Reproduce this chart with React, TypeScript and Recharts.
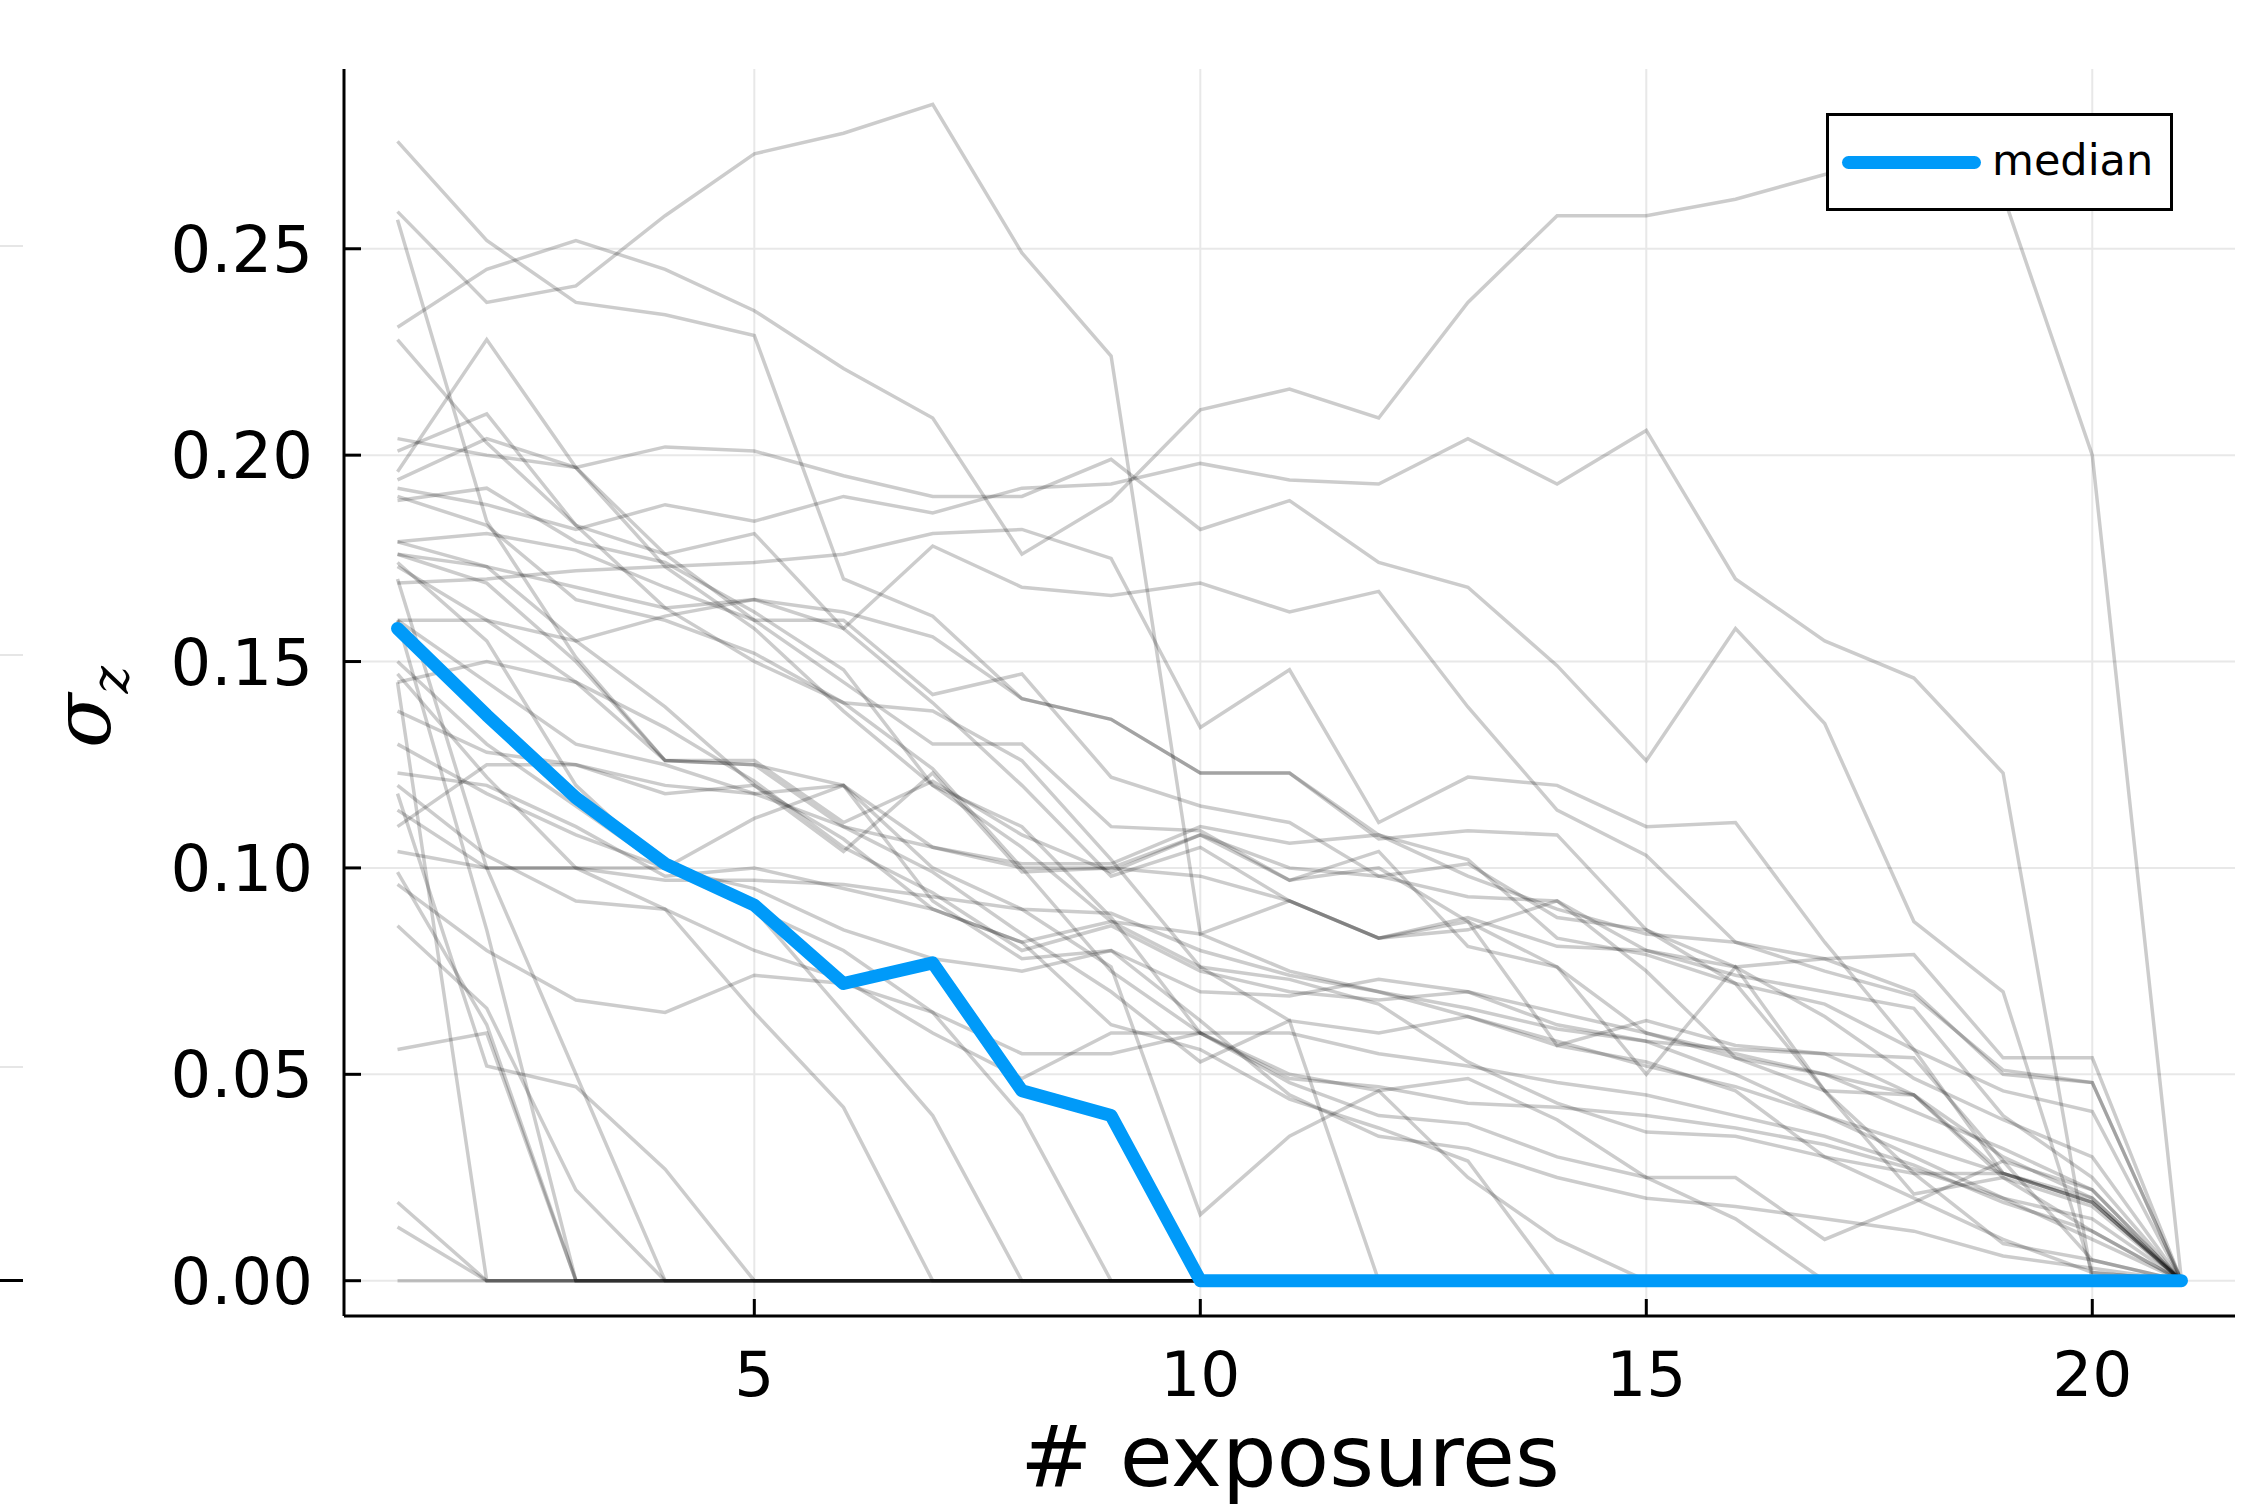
import React from 'react'
import { LineChart, Line, XAxis, YAxis, CartesianGrid } from 'recharts'

const exposures = [1, 2, 3, 4, 5, 6, 7, 8, 9, 10, 11, 12, 13, 14, 15, 16, 17, 18, 19, 20, 21]

const median = [0.158, 0.137, 0.117, 0.101, 0.091, 0.072, 0.077, 0.046, 0.040, 0, 0, 0, 0, 0, 0, 0, 0, 0, 0, 0, 0]

// individual runs (grey)
const run01 = [0.259, 0.237, 0.241, 0.258, 0.273, 0.278, 0.285, 0.249, 0.224, 0.084, 0.092, 0.083, 0.088, 0.081, 0.080, 0.076, 0.078, 0.079, 0.054, 0.054, 0]
const run02 = [0.231, 0.245, 0.252, 0.245, 0.235, 0.221, 0.209, 0.176, 0.189, 0.211, 0.216, 0.209, 0.237, 0.258, 0.258, 0.262, 0.268, 0.272, 0.263, 0.200, 0]
const run03 = [0.276, 0.252, 0.237, 0.234, 0.229, 0.170, 0.161, 0.141, 0.136, 0.123, 0.123, 0.108, 0.102, 0.083, 0.079, 0.072, 0.046, 0.021, 0.025, 0.018, 0]
const run04 = [0.192, 0.188, 0.182, 0.188, 0.184, 0.190, 0.186, 0.192, 0.193, 0.198, 0.194, 0.193, 0.204, 0.193, 0.206, 0.170, 0.155, 0.146, 0.123, 0, 0]
const run05 = [0.204, 0.200, 0.197, 0.202, 0.201, 0.195, 0.190, 0.190, 0.199, 0.182, 0.189, 0.174, 0.168, 0.149, 0.126, 0.158, 0.135, 0.087, 0.070, 0.002, 0]
const run06 = [0.169, 0.170, 0.172, 0.173, 0.174, 0.176, 0.181, 0.182, 0.175, 0.134, 0.148, 0.111, 0.122, 0.120, 0.110, 0.111, 0.082, 0.056, 0.026, 0.019, 0]
const run07 = [0.160, 0.160, 0.155, 0.161, 0.165, 0.158, 0.178, 0.168, 0.166, 0.169, 0.162, 0.167, 0.139, 0.114, 0.103, 0.082, 0.075, 0.069, 0.051, 0.048, 0]
const run08 = [0.176, 0.173, 0.168, 0.163, 0.165, 0.162, 0.156, 0.141, 0.136, 0.123, 0.123, 0.107, 0.109, 0.108, 0.085, 0.072, 0.067, 0.056, 0.046, 0.041, 0]
const run09 = [0.179, 0.181, 0.177, 0.168, 0.160, 0.160, 0.142, 0.147, 0.122, 0.115, 0.111, 0.098, 0.093, 0.092, 0.075, 0.054, 0.050, 0.041, 0.032, 0.022, 0]
const run10 = [0.257, 0.184, 0.151, 0.126, 0.126, 0.111, 0.121, 0.108, 0.099, 0.108, 0.097, 0.100, 0.087, 0.057, 0.063, 0.057, 0.055, 0.054, 0.029, 0.005, 0]
const run11 = [0.228, 0.203, 0.183, 0.163, 0.150, 0.140, 0.124, 0.100, 0.075, 0.060, 0.048, 0.040, 0.038, 0.030, 0.025, 0.015, 0, 0, 0, 0, 0]
const run12 = [0.196, 0.228, 0.197, 0.173, 0.158, 0.138, 0.120, 0.105, 0.087, 0.076, 0.063, 0.060, 0.064, 0.057, 0.053, 0.046, 0.030, 0.020, 0.010, 0.002, 0]
const run13 = [0.201, 0.210, 0.183, 0.176, 0.181, 0.158, 0.140, 0.120, 0.098, 0.105, 0.092, 0.083, 0.087, 0.076, 0.060, 0.054, 0.046, 0.026, 0.009, 0.005, 0]
const run14 = [0.194, 0.204, 0.197, 0.176, 0.160, 0.145, 0.130, 0.130, 0.110, 0.109, 0.097, 0.104, 0.081, 0.076, 0.050, 0.076, 0.046, 0.045, 0.026, 0.019, 0]
const run15 = [0.190, 0.183, 0.165, 0.160, 0.152, 0.140, 0.138, 0.126, 0.102, 0.076, 0.073, 0.067, 0.053, 0.043, 0.036, 0.035, 0.030, 0.026, 0.026, 0.019, 0]
const run16 = [0.189, 0.192, 0.179, 0.174, 0.162, 0.148, 0.120, 0.110, 0.088, 0.060, 0.050, 0.046, 0.049, 0.039, 0.025, 0.025, 0.010, 0.019, 0.029, 0.022, 0]
const run17 = [0.179, 0.173, 0.155, 0.139, 0.120, 0.107, 0.090, 0.082, 0.062, 0.056, 0.044, 0.037, 0.029, 0, 0, 0, 0, 0, 0, 0, 0]
const run18 = [0.176, 0.169, 0.150, 0.126, 0.125, 0.110, 0.099, 0.084, 0.070, 0.053, 0.063, 0, 0, 0, 0, 0, 0, 0, 0, 0, 0]
const run19 = [0.174, 0.155, 0.120, 0.100, 0.090, 0.065, 0.040, 0, 0, 0, 0, 0, 0, 0, 0, 0, 0, 0, 0, 0, 0]
const run20 = [0.173, 0.160, 0.145, 0.134, 0.121, 0.105, 0.094, 0.080, 0.086, 0.075, 0.070, 0.068, 0.070, 0.065, 0.060, 0.055, 0.050, 0.045, 0.030, 0.020, 0]
const run21 = [0.160, 0.145, 0.130, 0.125, 0.118, 0.110, 0.105, 0.100, 0.100, 0.098, 0.092, 0.083, 0.085, 0.092, 0.080, 0.074, 0.070, 0.066, 0.040, 0.025, 0]
const run22 = [0.147, 0.122, 0.100, 0.090, 0.065, 0.042, 0, 0, 0, 0, 0, 0, 0, 0, 0, 0, 0, 0, 0, 0, 0]
const run23 = [0.145, 0.150, 0.145, 0.126, 0.125, 0.120, 0.100, 0.090, 0.076, 0.016, 0.035, 0.046, 0.025, 0.010, 0, 0, 0, 0, 0, 0, 0]
const run24 = [0.138, 0.128, 0.125, 0.120, 0.118, 0.120, 0.092, 0.078, 0.080, 0.063, 0.045, 0.035, 0.032, 0.025, 0.020, 0.018, 0.015, 0.012, 0.006, 0.003, 0]
const run25 = [0.130, 0.118, 0.108, 0.100, 0.095, 0.085, 0.078, 0.075, 0.080, 0.070, 0.069, 0.073, 0.070, 0.062, 0.058, 0.056, 0.055, 0.045, 0.025, 0.012, 0]
const run26 = [0.123, 0.120, 0.110, 0.098, 0.100, 0.095, 0.090, 0.082, 0.087, 0.084, 0.075, 0.070, 0.066, 0.061, 0.058, 0.050, 0.040, 0.030, 0.020, 0.010, 0]
const run27 = [0.120, 0.103, 0.092, 0.090, 0.080, 0.073, 0.060, 0.049, 0.060, 0.060, 0.060, 0.055, 0.052, 0.048, 0.045, 0.040, 0.035, 0.028, 0.019, 0.012, 0]
const run28 = [0.118, 0.052, 0.047, 0.027, 0, 0, 0, 0, 0, 0, 0, 0, 0, 0, 0, 0, 0, 0, 0, 0, 0]
const run29 = [0.114, 0.100, 0.100, 0.100, 0.112, 0.120, 0.105, 0.101, 0.101, 0.110, 0.106, 0.108, 0.098, 0.090, 0.084, 0.082, 0.078, 0.070, 0.050, 0.048, 0]
const run30 = [0.110, 0.125, 0.125, 0.118, 0.120, 0.104, 0.123, 0.099, 0.100, 0.108, 0.100, 0.098, 0.101, 0.088, 0.085, 0.076, 0.064, 0.049, 0.039, 0.030, 0]
const run31 = [0.104, 0.100, 0.100, 0.097, 0.097, 0.096, 0.093, 0.090, 0.089, 0.080, 0.074, 0.070, 0.064, 0.058, 0.052, 0.047, 0.040, 0.033, 0.026, 0.020, 0]
const run32 = [0.099, 0.062, 0, 0, 0, 0, 0, 0, 0, 0, 0, 0, 0, 0, 0, 0, 0, 0, 0, 0, 0]
const run33 = [0.096, 0.080, 0.068, 0.065, 0.074, 0.072, 0.065, 0.055, 0.055, 0.060, 0.049, 0.047, 0.043, 0.042, 0.040, 0.037, 0.033, 0.027, 0.020, 0.015, 0]
const run34 = [0.086, 0.066, 0.022, 0, 0, 0, 0, 0, 0, 0, 0, 0, 0, 0, 0, 0, 0, 0, 0, 0, 0]
const run35 = [0.056, 0.060, 0, 0, 0, 0, 0, 0, 0, 0, 0, 0, 0, 0, 0, 0, 0, 0, 0, 0, 0]
const run36 = [0.019, 0, 0, 0, 0, 0, 0, 0, 0, 0, 0, 0, 0, 0, 0, 0, 0, 0, 0, 0, 0]
const run37 = [0.013, 0, 0, 0, 0, 0, 0, 0, 0, 0, 0, 0, 0, 0, 0, 0, 0, 0, 0, 0, 0]
const run38 = [0, 0, 0, 0, 0, 0, 0, 0, 0, 0, 0, 0, 0, 0, 0, 0, 0, 0, 0, 0, 0]
const run39 = [0.150, 0.130, 0.115, 0.100, 0.090, 0.080, 0.065, 0.040, 0, 0, 0, 0, 0, 0, 0, 0, 0, 0, 0, 0, 0]
const run40 = [0.145, 0, 0, 0, 0, 0, 0, 0, 0, 0, 0, 0, 0, 0, 0, 0, 0, 0, 0, 0, 0]
const run41 = [0.160, 0.085, 0, 0, 0, 0, 0, 0, 0, 0, 0, 0, 0, 0, 0, 0, 0, 0, 0, 0, 0]
const run42 = [0.170, 0.100, 0.050, 0, 0, 0, 0, 0, 0, 0, 0, 0, 0, 0, 0, 0, 0, 0, 0, 0, 0]

const runs = [
  run01, run02, run03, run04, run05, run06, run07, run08, run09, run10,
  run11, run12, run13, run14, run15, run16, run17, run18, run19, run20,
  run21, run22, run23, run24, run25, run26, run27, run28, run29, run30,
  run31, run32, run33, run34, run35, run36, run37, run38, run39, run40,
  run41, run42,
]

const xTicks = [5, 10, 15, 20]
const yTicks = [0, 0.05, 0.1, 0.15, 0.2, 0.25]

const rows = exposures.map((x, i) => {
  const row: Record<string, number> = { x, median: median[i] }
  runs.forEach((r, k) => {
    row[`run${k}`] = r[i]
  })
  return row
})

const FONT = '"DejaVu Sans", sans-serif'

function XTick({ x, y, payload }: any) {
  return (
    <g>
      <line x1={x} x2={x} y1={y} y2={y - 17} stroke="#000" strokeWidth={3} />
      <text x={x} y={y + 80} textAnchor="middle" fontSize={63} fontFamily={FONT} fill="#000">
        {payload.value}
      </text>
    </g>
  )
}

function YTick({ x, y, payload }: any) {
  return (
    <g>
      <line x1={x} x2={x + 17} y1={y} y2={y} stroke="#000" strokeWidth={3} />
      <text x={x - 31} y={y + 23} textAnchor="end" fontSize={64} fontFamily={FONT} fill="#000">
        {Number(payload.value).toFixed(2)}
      </text>
    </g>
  )
}

const xTitle = () => (
  <text x={1290} y={1486} textAnchor="middle" fontSize={86} fontFamily={FONT} fill="#000">
    # exposures
  </text>
)

const yTitle = () => (
  <text
    x={110}
    y={748}
    transform="rotate(-90 110 748)"
    fontSize={80}
    fontFamily='"DejaVu Serif", serif'
    fontStyle="italic"
    fill="#000"
  >
    σ<tspan fontSize={52} dy={18}>z</tspan>
  </text>
)

export default function App() {
  return (
    <div style={{ position: 'absolute', left: 0, top: 0, width: 2268, height: 1512, background: '#fff' }}>
      <LineChart width={2268} height={1512} data={rows} margin={{ top: 69, right: 33, left: 0, bottom: 0 }}>
        <CartesianGrid
          stroke="#e8e8e8"
          strokeWidth={2}
          horizontalValues={yTicks}
          verticalValues={xTicks}
        />
        <XAxis
          dataKey="x"
          type="number"
          domain={[0.4, 21.6]}
          ticks={xTicks}
          interval={0}
          height={196}
          tickSize={0}
          tickMargin={0}
          tick={<XTick />}
          axisLine={{ stroke: '#000', strokeWidth: 3 }}
          label={{ content: xTitle }}
          allowDataOverflow
        />
        <YAxis
          type="number"
          domain={[-0.00855, 0.29355]}
          ticks={yTicks}
          interval={0}
          width={344}
          tickSize={0}
          tickMargin={0}
          tick={<YTick />}
          axisLine={{ stroke: '#000', strokeWidth: 3 }}
          label={{ content: yTitle }}
          allowDataOverflow
        />
        {runs.map((_, k) => (
          <Line
            key={k}
            type="linear"
            dataKey={`run${k}`}
            stroke="#000"
            strokeOpacity={0.2}
            strokeWidth={3.5}
            dot={false}
            activeDot={false}
            isAnimationActive={false}
          />
        ))}
        <Line
          type="linear"
          dataKey="median"
          stroke="#009af9"
          strokeWidth={13}
          strokeLinecap="round"
          strokeLinejoin="round"
          dot={false}
          activeDot={false}
          isAnimationActive={false}
        />
      </LineChart>

      {/* legend */}
      <div
        style={{
          position: 'absolute',
          left: 1826,
          top: 113,
          width: 347,
          height: 98,
          boxSizing: 'border-box',
          border: '3px solid #000',
          background: '#fff',
        }}
      >
        <div
          style={{
            position: 'absolute',
            left: 13,
            top: 40,
            width: 139,
            height: 13,
            borderRadius: 7,
            background: '#009af9',
          }}
        />
        <div
          style={{
            position: 'absolute',
            left: 163,
            top: 14,
            fontFamily: FONT,
            fontSize: 43,
            lineHeight: '60px',
            color: '#000',
          }}
        >
          median
        </div>
      </div>

      {/* stray tick stubs at the far left edge */}
      <div style={{ position: 'absolute', left: 0, top: 245, width: 23, height: 2, background: '#e6e6e6' }} />
      <div style={{ position: 'absolute', left: 0, top: 654, width: 23, height: 2, background: '#e6e6e6' }} />
      <div style={{ position: 'absolute', left: 0, top: 1066, width: 23, height: 2, background: '#e6e6e6' }} />
      <div style={{ position: 'absolute', left: 0, top: 1279, width: 23, height: 3, background: '#000' }} />
    </div>
  )
}
